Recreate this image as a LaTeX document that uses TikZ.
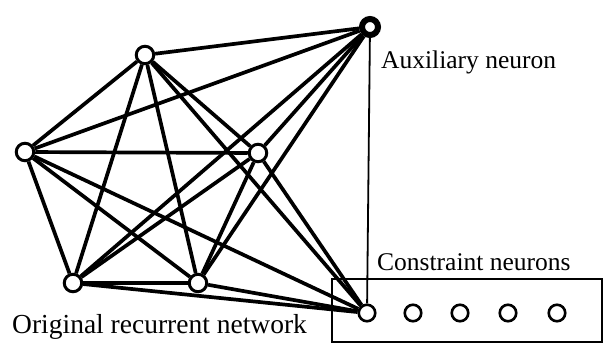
\documentclass[tikz,border=0pt]{standalone}
\usepackage{fontspec}
\setmainfont{Liberation Serif}
\begin{document}
\begin{tikzpicture}[x=1pt,y=-1pt,
  neuron/.style={circle,draw,fill=white,line width=3pt,minimum size=17.5pt,inner sep=0pt},
  cneuron/.style={circle,draw,fill=white,line width=2.6pt,minimum size=16.5pt,inner sep=0pt},
  auxneuron/.style={circle,draw,fill=white,line width=6pt,minimum size=16pt,inner sep=0pt},
  link/.style={line width=3.7pt},
  thinlink/.style={line width=1.8pt},
  caption/.style={font=\fontsize{25.5}{30}\selectfont,inner sep=0pt,anchor=base west}]
\useasboundingbox (0,0) rectangle (605,345);

% frame round the constraint layer
\draw[line width=2.4pt] (332,279) rectangle (602,342);

% neurons of the recurrent network
\node[neuron] (a) at (145,55) {};
\node[neuron] (b) at (25,152) {};
\node[neuron] (c) at (258,153) {};
\node[neuron] (d) at (73,283) {};
\node[neuron] (e) at (198,283) {};

% auxiliary neuron and constraint neurons
\node[auxneuron] (x) at (370,27) {};
\node[cneuron] (k1) at (367,313) {};
\node[cneuron] (k2) at (413,313) {};
\node[cneuron] (k3) at (460,313) {};
\node[cneuron] (k4) at (508,313) {};
\node[cneuron] (k5) at (557,313) {};

% full connectivity, plus links to the auxiliary and first constraint neuron
\foreach \u/\v in {a/b,a/c,a/d,a/e,b/c,b/d,b/e,c/d,c/e,d/e,
                   a/x,b/x,c/x,d/x,e/x,
                   a/k1,b/k1,c/k1,d/k1,e/k1}
  \draw[link] (\u) -- (\v);
\draw[thinlink] (x) -- (k1);

% captions
\node[caption] (auxlabel) at (381,68) {Auxiliary neuron};
\node[caption] (conlabel) at (377,270) {Constraint neurons};
\node[caption,font=\fontsize{27.5}{32}\selectfont] (netlabel) at (12,333) {Original recurrent network};
\end{tikzpicture}
\end{document}
